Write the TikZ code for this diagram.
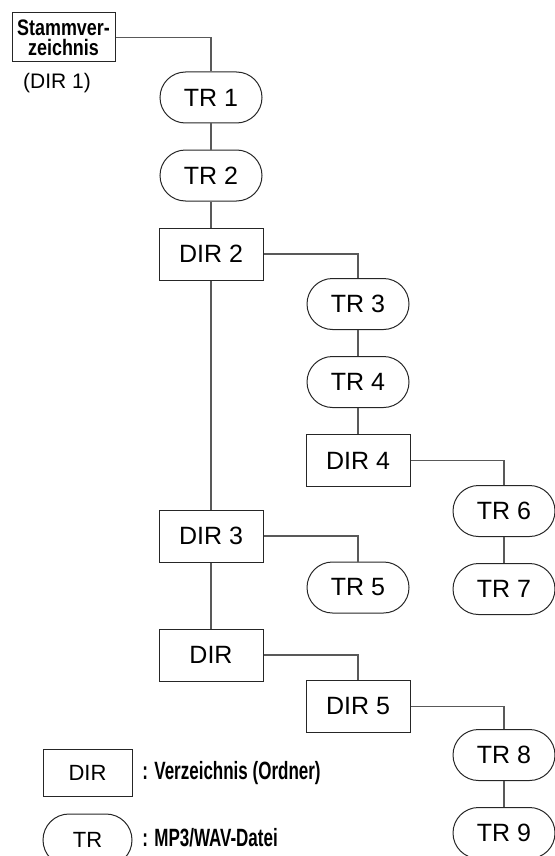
\documentclass[tikz,border=0pt]{standalone}
\usepackage{fontspec}
\setmainfont{Liberation Sans}
\newfontfamily\condfont[FakeStretch=0.8]{Liberation Sans}
\newfontfamily\keyfont[FakeStretch=0.68]{Liberation Sans}
\usetikzlibrary{positioning}
\tikzset{
dirbox/.style={
  draw=black!85, line width=0.5pt, inner sep=0pt,
  minimum width=52pt, minimum height=26pt,
  font=\fontsize{12.5}{14}\selectfont},
trbox/.style={
  draw=black!85, line width=0.5pt, inner sep=0pt, rounded corners=12.75pt,
  minimum width=51pt, minimum height=25.5pt,
  font=\fontsize{12.5}{14}\selectfont},
keytext/.style={anchor=west, inner sep=0pt,
  font=\keyfont\bfseries\fontsize{12.5}{14}\selectfont},
link/.style={draw=black!65, line width=0.55pt}}

\begin{document}
\begin{tikzpicture}[x=0.5pt, y=-0.5pt, node distance=13pt]
\useasboundingbox (0,0) rectangle (555,856);
% Stammverzeichnis
\node[draw=black!85, line width=0.5pt, inner sep=0pt, align=center,
      minimum width=51.5pt, minimum height=24.5pt,
      font=\condfont\bfseries\fontsize{11.2}{9.8}\selectfont] (dir1) at (63.5,37.5) {Stammver-\\zeichnis};
\node[font=\fontsize{10.5}{12}\selectfont] (dir1lbl) at (57,83) {(DIR 1)};

\node[trbox] (tr1) at (211,97.5) {TR 1};
\node[trbox, below=of tr1] (tr2) {TR 2};
\node[dirbox, below=of tr2] (dir2) {DIR 2};
  \node[trbox] (tr3) at (358,304) {TR 3};
  \node[trbox, below=of tr3] (tr4) {TR 4};
  \node[dirbox, below=of tr4] (dir4) {DIR 4};
    \node[trbox] (tr6) at (504,511) {TR 6};
    \node[trbox, below=of tr6] (tr7) {TR 7};
\node[dirbox] (dir3) at (211,536) {DIR 3};
  \node[trbox] (tr5) at (358,587.5) {TR 5};
\node[dirbox] (dir) at (211,655) {DIR};
  \node[dirbox] (dir5) at (358,706.5) {DIR 5};
    \node[trbox] (tr8) at (504,755) {TR 8};
    \node[trbox, below=of tr8] (tr9) {TR 9};

% connectors
\draw[link] (dir1.east) -| (tr1.north);
\draw[link] (tr1.south) -- (tr2.north);
\draw[link] (tr2.south) -- (dir2.north);
\draw[link] (dir2.south) -- (dir3.north);
\draw[link] (dir3.south) -- (dir.north);
\draw[link] (dir2.east) -| (tr3.north);
\draw[link] (tr3.south) -- (tr4.north);
\draw[link] (tr4.south) -- (dir4.north);
\draw[link] (dir4.east) -| (tr6.north);
\draw[link] (tr6.south) -- (tr7.north);
\draw[link] (dir3.east) -| (tr5.north);
\draw[link] (dir.east) -| (dir5.north);
\draw[link] (dir5.east) -| (tr8.north);
\draw[link] (tr8.south) -- (tr9.north);

% legend
\node[dirbox, minimum width=44.5pt, minimum height=23.5pt,
      font=\fontsize{11}{13}\selectfont] (keydir) at (87.5,772.5) {DIR};
\node[trbox, minimum width=44.5pt, minimum height=26pt, rounded corners=13pt,
      font=\fontsize{11}{13}\selectfont] (keytr) at (87.5,840) {TR};
\node[keytext] (keydirtxt) at (142,773) {: Verzeichnis (Ordner)};
\node[keytext] (keytrtxt) at (142,838) {: MP3/WAV-Datei};
\end{tikzpicture}
\end{document}
